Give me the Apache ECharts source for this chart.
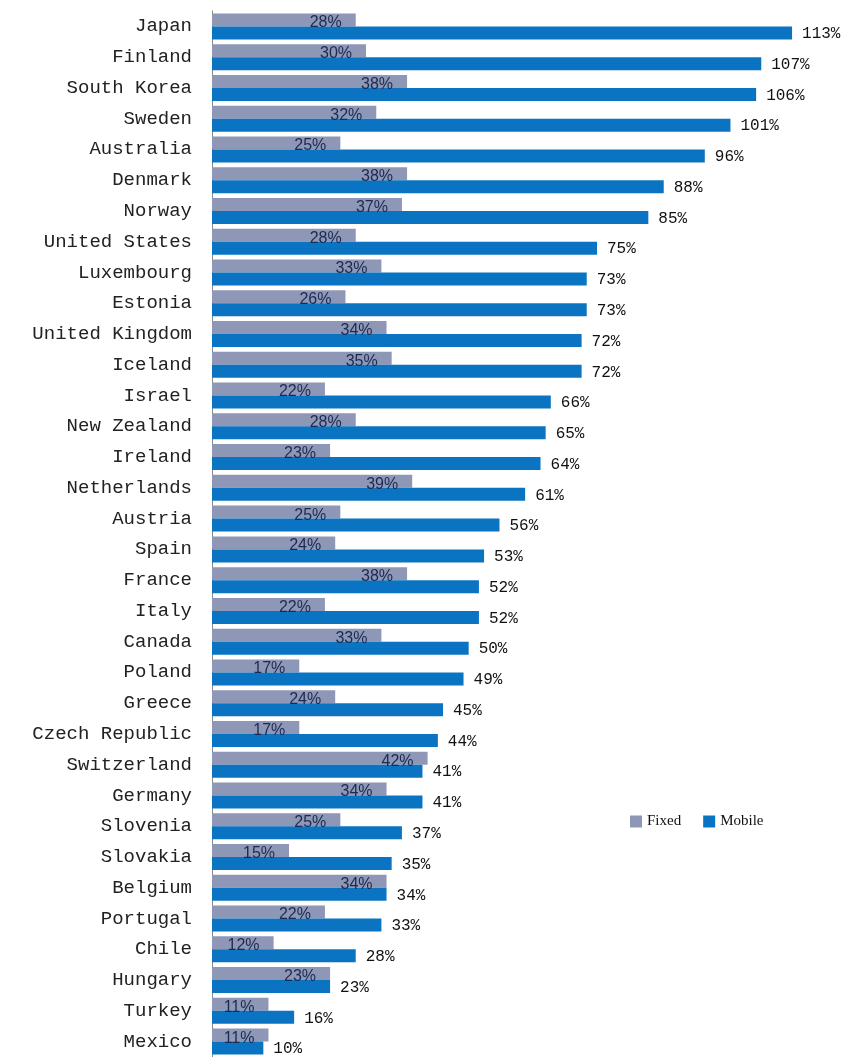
<!DOCTYPE html>
<html>
<head>
<meta charset="utf-8">
<script src="https://cdn.jsdelivr.net/npm/echarts@6/dist/echarts.min.js"></script>
<style>html,body{margin:0;padding:0;background:#fff}#c{width:846px;height:1057px}</style>
</head>
<body>
<div id="c"></div>
<script>
const countries = ["Japan","Finland","South Korea","Sweden","Australia","Denmark","Norway","United States","Luxembourg","Estonia","United Kingdom","Iceland","Israel","New Zealand","Ireland","Netherlands","Austria","Spain","France","Italy","Canada","Poland","Greece","Czech Republic","Switzerland","Germany","Slovenia","Slovakia","Belgium","Portugal","Chile","Hungary","Turkey","Mexico"];
const fixed = [28,30,38,32,25,38,37,28,33,26,34,35,22,28,23,39,25,24,38,22,33,17,24,17,42,34,25,15,34,22,12,23,11,11];
const mobile = [113,107,106,101,96,88,85,75,73,73,72,72,66,65,64,61,56,53,52,52,50,49,45,44,41,41,37,35,34,33,28,23,16,10];
const seriesNames = ["Fixed","Mobile"];

const chart = echarts.init(document.getElementById('c'));
chart.setOption({
  animation: false,
  backgroundColor: '#fff',
  grid: {left: 212, right: 18, top: 11, bottom: 0},
  legend: {
    data: seriesNames,
    left: 625, top: 809,
    itemWidth: 12, itemHeight: 12, itemGap: 22,
    icon: 'rect',
    textStyle: {fontFamily: 'Liberation Serif', fontSize: 15, color: '#111'}
  },
  xAxis: {
    type: 'value', min: 0, max: 120, show: false,
    splitLine: {show: false}
  },
  yAxis: {
    type: 'category', data: countries, inverse: true,
    axisTick: {show: false},
    axisLine: {show: true, lineStyle: {color: '#888', width: 1}},
    axisLabel: {fontFamily: 'Liberation Mono', fontSize: 19, color: '#222', margin: 20}
  },
  series: [
    {
      name: seriesNames[0], type: 'bar', data: fixed,
      barWidth: 13, barGap: '0%',
      itemStyle: {color: '#8e97b6'},
      label: {
        show: true, position: 'insideRight', distance: 14, offset: [0, 3],
        formatter: '{c}%', fontFamily: 'Liberation Sans', fontSize: 16, color: '#1b2a52'
      }
    },
    {
      name: seriesNames[1], type: 'bar', data: mobile,
      barWidth: 13,
      itemStyle: {color: '#0b74c2'},
      label: {
        show: true, position: 'right', distance: 10, offset: [0, 1],
        formatter: '{c}%', fontFamily: 'Liberation Mono', fontSize: 16, color: '#111'
      }
    }
  ]
});
</script>
</body>
</html>
